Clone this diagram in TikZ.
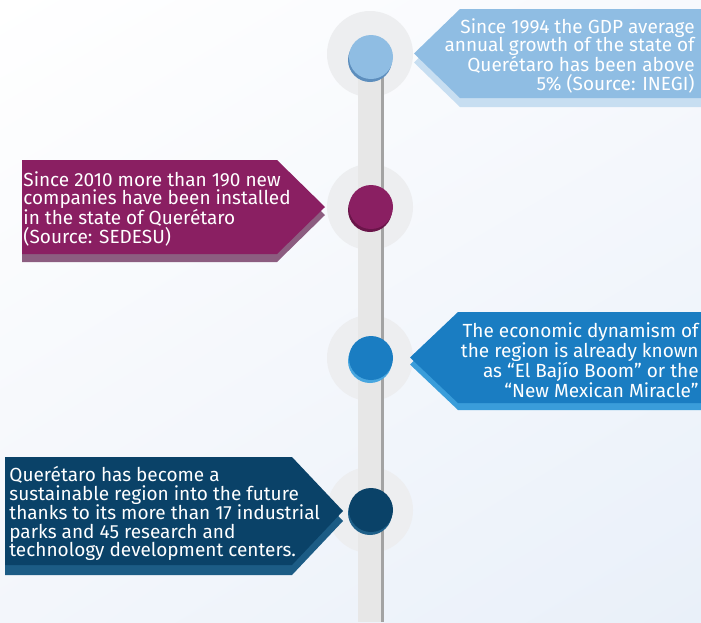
\documentclass[tikz,border=0pt]{standalone}
\usepackage{fontspec}
\setsansfont{Fira Sans}
\usetikzlibrary{calc, shadings}
\definecolor{bgLeft}{HTML}{F3F6FB}
\definecolor{bgTopRight}{HTML}{F7F9FD}
\definecolor{bgRight}{HTML}{E9F0F9}
\definecolor{haloColor}{HTML}{EDEEF0}
\definecolor{barColor}{HTML}{E7E7E7}
\definecolor{barEdge}{HTML}{A3A3A3}
\definecolor{gdpColor}{HTML}{8FBDE3}
\definecolor{gdpShadow}{HTML}{C7DEF1}
\definecolor{gdpRim}{HTML}{5D8EBD}
\definecolor{sedesuColor}{HTML}{8A1F62}
\definecolor{sedesuShadow}{HTML}{8C5D80}
\definecolor{sedesuRim}{HTML}{6A1549}
\definecolor{boomColor}{HTML}{1A7DC2}
\definecolor{boomShadow}{HTML}{3A9DDA}
\definecolor{boomRim}{HTML}{48A6DF}
\definecolor{parksColor}{HTML}{0A4268}
\definecolor{parksShadow}{HTML}{1C5C85}
\definecolor{parksRim}{HTML}{1E5F88}

\begin{document}
\begin{tikzpicture}[x=1pt, y=-1pt, font=\sffamily, thick,
	banner text/.style={text=white, inner sep=0pt, font=\sffamily\fontsize{19}{18.4}\selectfont},
	halo/.style={circle, fill=haloColor, minimum size=86pt, inner sep=0pt},
	dot/.style={circle, minimum size=44pt, inner sep=0pt}]
		
		% --- 1. Canvas ---
		\useasboundingbox (0,0) rectangle (701,622);
		\shade[upper left=white, upper right=bgTopRight, lower left=bgLeft, lower right=bgRight] (0,0) rectangle (701,622);
		
		% --- 2. Halos behind the timeline ---
		\foreach \name/\y in {haloGdp/54, haloSedesu/207, haloBoom/358, haloParks/510} {
			\node[halo] (\name) at (370,\y) {};
		}
		
		% --- 3. Timeline bar ---
		\fill[barColor] (358,60) rectangle (381,622);
		\fill[barEdge] (380.5,60) rectangle (384,622);
		
		% --- 4. Banners ---
		% Right side, pointing left
		\foreach \top/\bot/\tipx/\cx/\dy/\main/\lo in {
			9/98/414/460/9/gdpColor/gdpShadow,% GDP
			312/403/410/458/7/boomColor/boomShadow% El Bajio
		} {
			\fill[\lo, shift={(0,\dy)}] (701,\top) -- (\cx,\top) -- (\tipx,{(\top+\bot)/2}) -- (\cx,\bot) -- (701,\bot) -- cycle;
			\fill[\main] (701,\top) -- (\cx,\top) -- (\tipx,{(\top+\bot)/2}) -- (\cx,\bot) -- (701,\bot) -- cycle;
		}
		% Left side, pointing right
		\foreach \top/\bot/\lx/\cx/\tipx/\dy/\main/\lo in {
			160/254/22/277/325/8/sedesuColor/sedesuShadow,% companies
			457/565/5/292/343/10/parksColor/parksShadow% parks
		} {
			\fill[\lo, shift={(0,\dy)}] (\lx,\top) -- (\cx,\top) -- (\tipx,{(\top+\bot)/2}) -- (\cx,\bot) -- (\lx,\bot) -- cycle;
			\fill[\main] (\lx,\top) -- (\cx,\top) -- (\tipx,{(\top+\bot)/2}) -- (\cx,\bot) -- (\lx,\bot) -- cycle;
		}
		
		% --- 5. Dots on the timeline ---
		\foreach \name/\y/\main/\rim in {dotGdp/57/gdpColor/gdpRim, dotSedesu/207/sedesuColor/sedesuRim, dotBoom/358/boomColor/boomRim, dotParks/510/parksColor/parksRim} {
			\node[dot, fill=\rim] at (370,{\y+3}) {};
			\node[dot, fill=\main] (\name) at (371,\y) {};
		}
		
		% --- 6. Texts ---
		\node[banner text, anchor=north east, align=right] (gdpText) at (695,18) {Since 1994 the GDP average\\annual growth of the state of\\Querétaro has been above\\5\% (Source: INEGI)};
		\node[banner text, anchor=north west, align=left] (sedesuText) at (23,171) {Since 2010 more than 190 new\\companies have been installed\\in the state of Querétaro\\(Source: SEDESU)};
		\node[banner text, anchor=north east, align=right] (boomText) at (699,322) {The economic dynamism of\\the region is already known\\as “El Bajío Boom” or the\\“New Mexican Miracle”};
		\node[banner text, anchor=north west, align=left] (parksText) at (9,466) {Querétaro has become a\\sustainable region into the future\\thanks to its more than 17 industrial\\parks and 45 research and\\technology development centers.};
		
	\end{tikzpicture}
\end{document}
